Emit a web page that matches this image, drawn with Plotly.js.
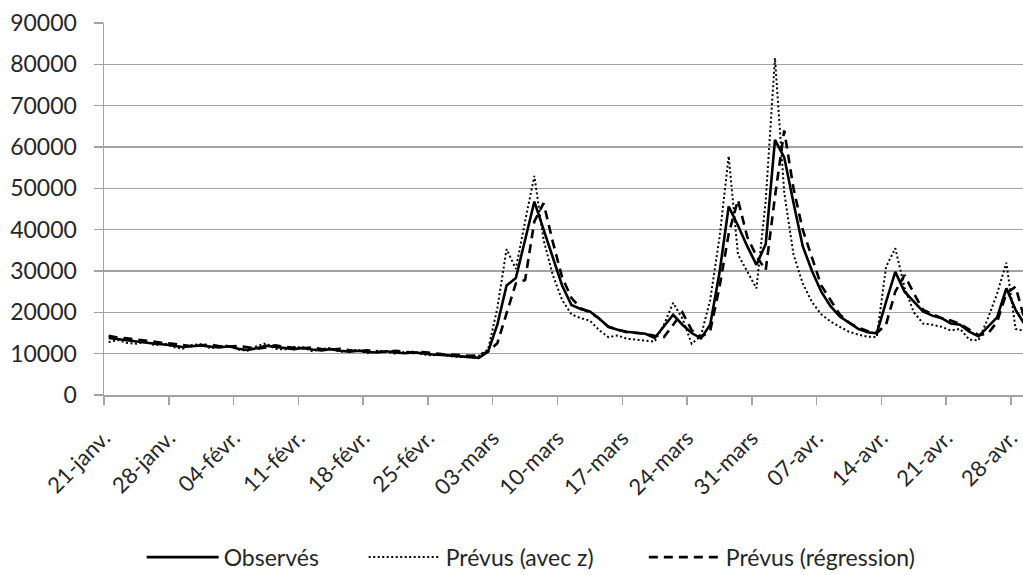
<!DOCTYPE html>
<html>
<head>
<meta charset="utf-8">
<script src="https://cdn.plot.ly/plotly-3.0.1.min.js"></script>
<style>html,body{margin:0;padding:0;background:#fff;}#chart{width:1023px;height:575px;}</style>
</head>
<body>
<div id="chart"></div>
<script>
// Daily series starting 21 January 2012
const startDate = [2012, 0, 21];

const observes = [
  13800, 13500, 13200, 13000, 12700, 12400, 12200,
  11900, 11600, 11800, 12000, 11700, 11500, 11800,
  11200, 10900, 11300, 11900, 11600, 11300, 11100,
  11400, 11000, 10800, 11100, 10700, 10500, 10700,
  10400, 10300, 10600, 10300, 10100, 10300, 10000,
  9800, 9700, 9500, 9300, 9100, 9000, 10500,
  17000, 26500, 28300, 37500, 46800, 40000, 33000,
  26500, 21800, 20800, 20200, 18500, 16500, 15800,
  15300, 15000, 14800, 13800, 16500, 19400, 17000,
  15000, 13700, 17000, 29500, 45600, 41000, 36000,
  31500, 36500, 61700, 57500, 46500, 36000, 30000,
  25000, 21500, 19000, 17500, 16000, 15200, 14900,
  22500, 29800, 25000, 22500, 20200, 19200, 18600,
  17300, 17000, 15300, 14200, 16500, 18800, 25800,
  20600, 17000
];

const prevusAvecZ = [
  12800, 13300, 12600, 12400, 12900, 12000, 12500,
  11600, 11200, 12100, 12300, 11300, 11700, 12000,
  11000, 10700, 11800, 12500, 11200, 11000, 11600,
  11500, 10600, 11100, 11400, 10400, 10800, 10900,
  10100, 10700, 10500, 10000, 10400, 10500, 9800,
  9600, 9900, 9400, 9200, 9300, 9500, 11000,
  21000, 35300, 30500, 42000, 53000, 37500, 29000,
  23000, 19500, 18600, 18000, 15700, 14000, 14400,
  13600, 13400, 13200, 12900, 17000, 22300, 18500,
  12400, 14300, 23000, 38000, 57800, 34000, 30000,
  25800, 47000, 81500, 49000, 34000, 27000, 22500,
  19500, 17800, 16500, 15300, 14600, 14100, 14000,
  31000, 35500, 26000, 20000, 17300, 17000, 16500,
  15600, 16000, 13400, 13200, 18500, 24500, 32000,
  16000, 15500
];

const prevusRegression = [
  14300, 13900, 13700, 13400, 13200, 12900, 12600,
  12400, 12100, 11800, 12000, 12200, 11800, 11700,
  11900, 11500, 11200, 11500, 12000, 11700, 11400,
  11300, 11500, 11100, 11000, 11200, 10800, 10600,
  10800, 10500, 10400, 10700, 10400, 10200, 10400,
  10100, 9900, 9800, 9600, 9500, 9600, 10500,
  12500, 20000, 27000, 27800, 42000, 46400, 37000,
  28500, 23500, 21000, 20000, 18500, 16500, 15800,
  15200, 15000, 14800, 14300, 14000, 17000, 20000,
  15700, 14000, 15500, 26000, 39000, 47200, 38300,
  33600, 30200, 48000, 64000, 50000, 40000, 33000,
  26500, 23000, 19500, 17500, 16300, 15500, 15000,
  17000, 25000, 29000, 24600, 20600, 19500, 18600,
  18000, 17200, 15800, 14500, 14800, 17700, 24600,
  26200, 18000
];

const tickLabels = ['21-janv.', '28-janv.', '04-févr.', '11-févr.', '18-févr.', '25-févr.',
  '03-mars', '10-mars', '17-mars', '24-mars', '31-mars', '07-avr.', '14-avr.', '21-avr.', '28-avr.'];

const seriesNames = ['Observés', 'Prévus (avec z)', 'Prévus (régression)'];

function isoDay(offset, hours) {
  const t = Date.UTC(startDate[0], startDate[1], startDate[2] + offset) + (hours || 0) * 3600000;
  return new Date(t).toISOString().slice(0, 16).replace('T', ' ');
}

const dates = observes.map((_, i) => isoDay(i).slice(0, 10));
const tickVals = tickLabels.map((_, k) => isoDay(7 * k, -12));

const FONT = 'Lato, "Open Sans", sans-serif';
const GRID = '#a3a3a3';
const TXT = '#262626';

const traces = [
  {x: dates, y: observes, name: seriesNames[0], type: 'scatter', mode: 'lines', legend: 'legend',
   line: {color: '#000', width: 2.6}},
  {x: dates, y: prevusAvecZ, name: seriesNames[1], type: 'scatter', mode: 'lines', legend: 'legend2',
   line: {color: '#000', width: 2, dash: '2px,2.5px'}},
  {x: dates, y: prevusRegression, name: seriesNames[2], type: 'scatter', mode: 'lines', legend: 'legend3',
   line: {color: '#000', width: 2.6, dash: '9px,6px'}}
];

function legendAt(x) {
  return {
    orientation: 'h', x: x, xanchor: 'left',
    yref: 'container', y: 0.031, yanchor: 'middle',
    font: {family: FONT, size: 23, color: TXT},
    itemwidth: 72, bgcolor: 'rgba(0,0,0,0)'
  };
}

const layout = {
  width: 1023, height: 575,
  margin: {l: 104, r: 0, t: 23, b: 180, pad: 0, autoexpand: false},
  paper_bgcolor: '#fff', plot_bgcolor: '#fff',
  font: {family: FONT, size: 22, color: TXT},
  showlegend: true,
  xaxis: {
    type: 'date',
    range: [isoDay(-1, 12), isoDay(98, 19.2)],
    tickvals: tickVals, ticktext: tickLabels,
    tickangle: -45,
    showgrid: false, zeroline: false,
    showline: true, linecolor: GRID, linewidth: 1.5,
    ticks: 'outside', ticklen: 8, tickcolor: GRID, tickwidth: 1.5,
    ticklabelstandoff: 12,
    tickfont: {family: FONT, size: 22, color: TXT}
  },
  yaxis: {
    range: [0, 90000], dtick: 10000, tick0: 0, tickformat: 'd',
    showgrid: true, gridcolor: GRID, gridwidth: 1.5,
    zeroline: false,
    showline: true, linecolor: GRID, linewidth: 1.5,
    ticks: 'outside', ticklen: 9, tickcolor: GRID, tickwidth: 1.5,
    ticklabelstandoff: 12,
    tickfont: {family: FONT, size: 23, color: TXT}
  },
  legend: legendAt(0.041),
  legend2: legendAt(0.2826),
  legend3: legendAt(0.5874)
};

Plotly.newPlot('chart', traces, layout, {staticPlot: true, displayModeBar: false});
</script>
</body>
</html>
